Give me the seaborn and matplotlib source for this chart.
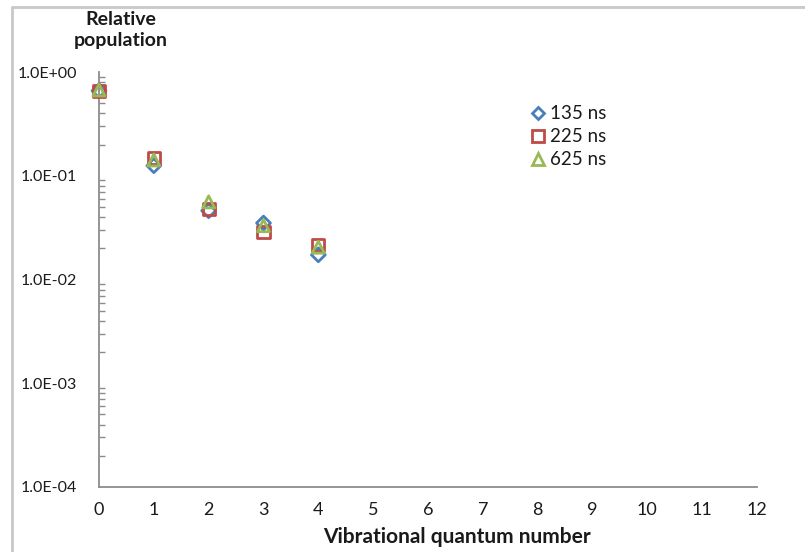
import matplotlib
matplotlib.use("Agg")
import matplotlib.pyplot as plt
import matplotlib.ticker as mticker
from matplotlib.lines import Line2D
import seaborn as sns
import pandas as pd
import numpy as np

# Relative population of vibrational levels at three delay times
levels = [0, 1, 2, 3, 4]
pop_135ns = [0.66, 0.125, 0.046, 0.035, 0.0173]
pop_225ns = [0.65, 0.148, 0.048, 0.029, 0.0215]
pop_625ns = [0.67, 0.142, 0.056, 0.033, 0.0205]
series_labels = ["135 ns", "225 ns", "625 ns"]
x_ticks = list(range(0, 13))
y_ticks = [1e-4, 1e-3, 1e-2, 1e-1, 1e0]
y_tick_labels = ["1.0E-04", "1.0E-03", "1.0E-02", "1.0E-01", "1.0E+00"]

df = pd.DataFrame({
    "level": levels * 3,
    "population": pop_135ns + pop_225ns + pop_625ns,
    "series": sum([[s] * len(levels) for s in series_labels], []),
})

sns.set_style("white")
plt.rcParams["font.family"] = ["Lato", "DejaVu Sans"]

colors = {"135 ns": "#4a7ebb", "225 ns": "#be4b48", "625 ns": "#98b954"}
markers = {"135 ns": "D", "225 ns": "s", "625 ns": "^"}
sizes = {"135 ns": 50, "225 ns": 75, "625 ns": 75}
text_col = "#1a1a1a"

fig = plt.figure(figsize=(8.05, 5.52), dpi=100)
ax = fig.add_axes([99 / 805, 1 - 487 / 552, (757 - 99) / 805, (487 - 72) / 552])

for s in series_labels:
    sub = df[df["series"] == s]
    sns.scatterplot(data=sub, x="level", y="population", ax=ax,
                    marker=markers[s], s=sizes[s], facecolor="none",
                    edgecolor=colors[s], linewidth=2.0, legend=False,
                    zorder=3, clip_on=False)

ax.set_yscale("log")
ax.set_xlim(0, 12)
ax.set_ylim(1e-4, 1)
ax.set_xticks(x_ticks)
ax.set_xticklabels([str(t) for t in x_ticks], fontsize=13)
ax.set_yticks(y_ticks)
ax.set_yticklabels(y_tick_labels, fontsize=11.5)
ax.yaxis.set_minor_locator(mticker.LogLocator(base=10, subs=np.arange(2, 10)))
ax.yaxis.set_minor_formatter(mticker.NullFormatter())
ax.set_xlabel("")
ax.set_ylabel("")

axis_col = "#8c8c8c"
for side in ["top", "right"]:
    ax.spines[side].set_visible(False)
for side in ["left", "bottom"]:
    ax.spines[side].set_color(axis_col)
    ax.spines[side].set_linewidth(1.3)

ax.tick_params(axis="x", which="major", direction="in", length=5, width=1.2,
               color=axis_col, pad=11, labelcolor=text_col)
ax.tick_params(axis="y", which="major", direction="in", length=5, width=1.2,
               color=axis_col, pad=16, labelcolor=text_col)
ax.tick_params(axis="y", which="minor", direction="in", length=4, width=1.0,
               color=axis_col, left=True)

# Axis titles
fig.text(121 / 805, 1 - 30 / 552, "Relative\npopulation", ha="center", va="center",
         fontsize=14, fontweight="bold", linespacing=1.35, color=text_col)
fig.text(457 / 805, 1 - 537 / 552, "Vibrational quantum number", ha="center",
         va="center", fontsize=15, fontweight="bold", color=text_col)

# Legend
handles = [Line2D([], [], linestyle="none", marker=markers[s],
                  markersize=6.5 if s == "135 ns" else 8,
                  markerfacecolor="none", markeredgecolor=colors[s],
                  markeredgewidth=2.0, label=s) for s in series_labels]
leg = fig.legend(handles=handles, loc="upper left",
                 bbox_to_anchor=(523 / 805, 1 - 96 / 552), frameon=False,
                 fontsize=13.5, handlelength=0.6, handletextpad=0.35,
                 labelspacing=0.32, borderpad=0)
for t in leg.get_texts():
    t.set_color(text_col)

# Outer frame edges
fig.add_artist(Line2D([12 / 805, 1.0], [1 - 7 / 552, 1 - 7 / 552],
                      color="#c8c8c8", linewidth=2, transform=fig.transFigure))
fig.add_artist(Line2D([12 / 805, 12 / 805], [0.0, 1 - 7 / 552],
                      color="#c8c8c8", linewidth=2, transform=fig.transFigure))

fig.savefig("out.png", dpi=100)
